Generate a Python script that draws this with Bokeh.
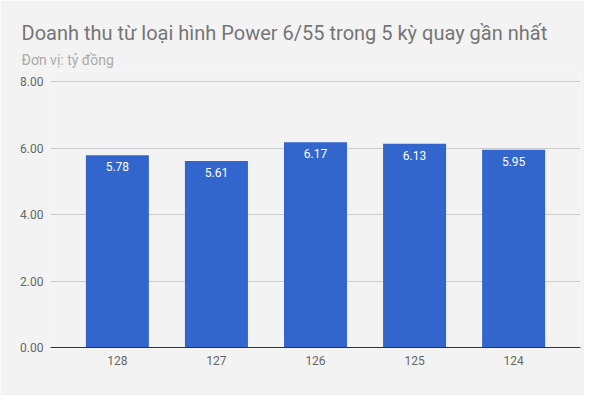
from bokeh.plotting import figure
from bokeh.models import FactorRange, Range1d, FixedTicker, NumeralTickFormatter, Title, ColumnDataSource
from bokeh.core.properties import value
from bokeh.embed import file_html
from bokeh.resources import INLINE

title_text = "Doanh thu từ loại hình Power 6/55 trong 5 kỳ quay gần nhất"
subtitle_text = "Đơn vị: tỷ đồng"
categories = ["128", "127", "126", "125", "124"]
revenue = [5.78, 5.61, 6.17, 6.13, 5.95]
y_ticks = [0, 2, 4, 6, 8]

BG = "#f3f3f3"
FONT = "Roboto"

src = ColumnDataSource(dict(cat=categories, val=revenue, lab=["%.2f" % v for v in revenue]))

# frame spans 71..347 px; value 8 sits at 81 px
y_top = 8 * 276 / 266

p = figure(width=584, height=395, output_backend="svg", toolbar_location=None,
           x_range=FactorRange(factors=categories, range_padding=0.07),
           y_range=Range1d(0, y_top),
           min_border_left=50, min_border_right=4, min_border_top=71, min_border_bottom=48)
p.background_fill_color = BG
p.border_fill_color = BG
p.outline_line_color = None

p.vbar(x="cat", top="val", width=0.636, source=src, fill_color="#3366cc", line_color=None)
p.text(x="cat", y="val", text="lab", source=src, y_offset=7, text_baseline="top", text_align="center",
       text_color="white", text_font=value(FONT), text_font_size="12px")

p.xgrid.grid_line_color = None
p.ygrid.grid_line_color = "#cccccc"
p.ygrid.ticker = FixedTicker(ticks=y_ticks)

p.yaxis.ticker = FixedTicker(ticks=y_ticks)
p.yaxis.formatter = NumeralTickFormatter(format="0.00")
p.yaxis.axis_line_color = None
p.yaxis.major_tick_line_color = None
p.yaxis.minor_tick_line_color = None
p.yaxis.major_tick_out = 0
p.yaxis.major_tick_in = 0
p.yaxis.major_label_standoff = 7
p.yaxis.major_label_text_font = FONT
p.yaxis.major_label_text_font_size = "12px"
p.yaxis.major_label_text_color = "#666666"

p.xaxis.axis_line_color = "#333333"
p.xaxis.major_tick_line_color = None
p.xaxis.minor_tick_line_color = None
p.xaxis.major_tick_out = 0
p.xaxis.major_tick_in = 0
p.xaxis.major_label_standoff = 8
p.xaxis.major_label_text_font = FONT
p.xaxis.major_label_text_font_size = "12px"
p.xaxis.major_label_text_color = "#666666"

p.title.text = title_text
p.title.align = "left"
p.title.offset = -29
p.title.standoff = 2
p.title.text_font = FONT
p.title.text_font_size = "20px"
p.title.text_font_style = "normal"
p.title.text_color = "#757575"

p.add_layout(Title(text=subtitle_text, align="left", offset=-29, standoff=8, text_font=FONT,
                   text_font_size="14px", text_font_style="normal", text_color="#aaaaaa"), "above")

open("out.html", "w").write(file_html(p, INLINE))
